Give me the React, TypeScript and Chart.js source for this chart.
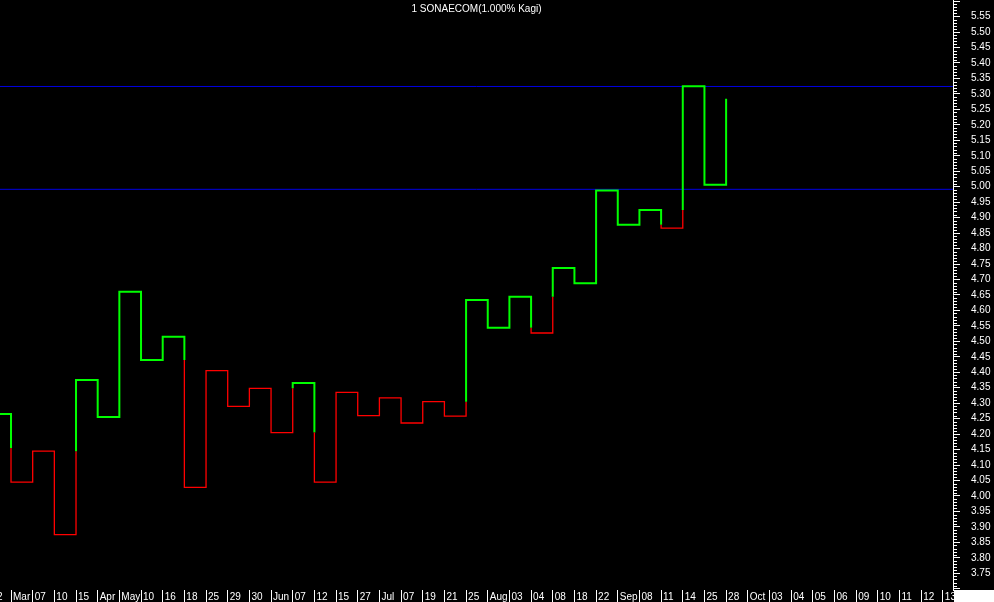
import React, { useEffect, useRef } from "react";
import { Chart, registerables } from "chart.js";

Chart.register(...registerables);

// ---- data ----
const xLabels = [
  "22", "Mar", "07", "10", "15", "Apr", "May", "10", "16", "18", "25", "29", "30", "Jun",
  "07", "12", "15", "27", "Jul", "07", "19", "21", "25", "Aug", "03", "04", "08", "18",
  "22", "Sep", "08", "11", "14", "25", "28", "Oct", "03", "04", "05", "06", "09", "10",
  "11", "12", "13",
];

// Kagi turning levels, one per column (last one is the open final vertical)
const kagiLevels = [
  4.265, 4.045, 4.145, 3.875, 4.375, 4.255, 4.66, 4.44, 4.515, 4.028,
  4.405, 4.29, 4.348, 4.205, 4.365, 4.045, 4.335, 4.26, 4.317, 4.236,
  4.305, 4.258, 4.634, 4.544, 4.644, 4.527, 4.737, 4.688, 4.988, 4.877,
  4.925, 4.866, 5.325, 5.006, 5.284,
];
const initialWaist = 4.155;
const referenceLines = [5.324, 4.9915];

const yMin = 3.696;
const yMax = 5.6036;
const xMin = 0.492;
const xMax = 44.47;
const chartTitle = "1 SONAECOM(1.000% Kagi)";

const GREEN = "#00ff00";
const RED = "#ff0000";
const BLUE = "#0000e0";
const FONT = "'Liberation Sans', Arial, sans-serif";

function buildKagi(levels: number[], waist0: number) {
  const pts: { x: number; y: number }[] = [];
  const yang: boolean[] = [];
  let isYang = true;
  let lastWaist = waist0;
  let lastShoulder = levels[0];
  pts.push({ x: 0, y: levels[0] });
  pts.push({ x: 1, y: levels[0] });
  yang.push(isYang);
  for (let i = 1; i < levels.length; i++) {
    const from = levels[i - 1];
    const to = levels[i];
    if (to < from) {
      if (isYang && to < lastWaist) {
        pts.push({ x: i, y: lastWaist });
        yang.push(true);
        isYang = false;
      }
      lastShoulder = from;
    } else {
      if (!isYang && to > lastShoulder) {
        pts.push({ x: i, y: lastShoulder });
        yang.push(false);
        isYang = true;
      }
      lastWaist = from;
    }
    pts.push({ x: i, y: to });
    yang.push(isYang);
    if (i < levels.length - 1) {
      pts.push({ x: i + 1, y: to });
      yang.push(isYang);
    }
  }
  return { pts, yang };
}

const decorPlugin = {
  id: "decor",
  afterDraw(chart: any) {
    const { ctx, chartArea, scales } = chart;
    const y = scales.y;
    ctx.save();
    // minor ticks every 0.01
    ctx.strokeStyle = "#ffffff";
    ctx.lineWidth = 1;
    ctx.beginPath();
    for (let k = Math.ceil(yMin * 100); k <= Math.floor(yMax * 100); k++) {
      if (k % 5 === 0) continue;
      const py = Math.round(y.getPixelForValue(k / 100)) + 0.5;
      ctx.moveTo(chartArea.right, py);
      ctx.lineTo(chartArea.right + 4, py);
    }
    ctx.stroke();
    // title
    ctx.fillStyle = "#ffffff";
    ctx.font = "10px " + FONT;
    ctx.textAlign = "center";
    ctx.textBaseline = "middle";
    ctx.fillText(chartTitle, (chartArea.left + chartArea.right) / 2, 9);
    // corner box
    ctx.fillStyle = "#ffffff";
    ctx.fillRect(chartArea.right + 1, chartArea.bottom, chart.width - chartArea.right, chart.height - chartArea.bottom);
    ctx.restore();
  },
};

export default function App() {
  const ref = useRef<HTMLCanvasElement | null>(null);

  useEffect(() => {
    document.body.style.margin = "0";
    const { pts, yang } = buildKagi(kagiLevels, initialWaist);
    const refSets = referenceLines.map((v) => ({
      data: [
        { x: -2, y: v },
        { x: 50, y: v },
      ],
      borderColor: BLUE,
      borderWidth: 1,
      pointRadius: 0,
      tension: 0,
    }));
    const chart = new Chart(ref.current as HTMLCanvasElement, {
      type: "line",
      data: {
        datasets: [
          {
            data: pts,
            borderColor: GREEN,
            borderWidth: 2,
            pointRadius: 0,
            tension: 0,
            segment: {
              borderColor: (c: any) => (yang[c.p0DataIndex] ? GREEN : RED),
              borderWidth: (c: any) => (yang[c.p0DataIndex] ? 2 : 1.3),
            },
          } as any,
          ...refSets,
        ],
      },
      options: {
        responsive: false,
        animation: false,
        devicePixelRatio: 1,
        layout: { padding: 0, autoPadding: false },
        plugins: {
          legend: { display: false },
          tooltip: { enabled: false },
          title: { display: false },
        },
        scales: {
          x: {
            type: "linear",
            min: xMin,
            max: xMax,
            afterBuildTicks: (scale: any) => {
              scale.ticks = xLabels.map((_, i) => ({ value: i }));
            },
            afterFit: (scale: any) => {
              scale.height = 12;
              scale.paddingLeft = 0;
              scale.paddingRight = 0;
              scale.paddingTop = 0;
              scale.paddingBottom = 0;
            },
            border: { display: false },
            grid: {
              display: true,
              drawOnChartArea: false,
              drawTicks: true,
              tickLength: 12,
              color: "#ffffff",
              lineWidth: 1,
            },
            ticks: {
              autoSkip: false,
              maxRotation: 0,
              minRotation: 0,
              align: "start",
              labelOffset: 2,
              padding: -11,
              color: "#ffffff",
              font: { size: 10, family: FONT },
              callback: (v: any) => xLabels[Math.round(Number(v))] ?? "",
            },
          },
          y: {
            type: "linear",
            position: "right",
            min: yMin,
            max: yMax,
            afterFit: (scale: any) => {
              scale.width = 41;
              scale.paddingTop = 0;
              scale.paddingBottom = 0;
              scale.paddingLeft = 0;
              scale.paddingRight = 0;
            },
            border: { display: true, color: "#ffffff", width: 1 },
            grid: {
              display: true,
              drawOnChartArea: false,
              drawTicks: true,
              tickLength: 7,
              color: "#ffffff",
              lineWidth: 1,
            },
            ticks: {
              stepSize: 0.05,
              includeBounds: false,
              autoSkip: false,
              padding: 11,
              color: "#ffffff",
              font: { size: 10, family: FONT },
              callback: (v: any) => {
                const n = Number(v);
                return n >= 3.745 && n <= 5.555 ? n.toFixed(2) : "";
              },
            },
          },
        },
      } as any,
      plugins: [decorPlugin],
    });
    return () => chart.destroy();
  }, []);

  return (
    <div style={{ position: "fixed", left: 0, top: 0, width: 994, height: 602, background: "#000" }}>
      <canvas ref={ref} width={994} height={602} style={{ display: "block", background: "#000" }} />
    </div>
  );
}
